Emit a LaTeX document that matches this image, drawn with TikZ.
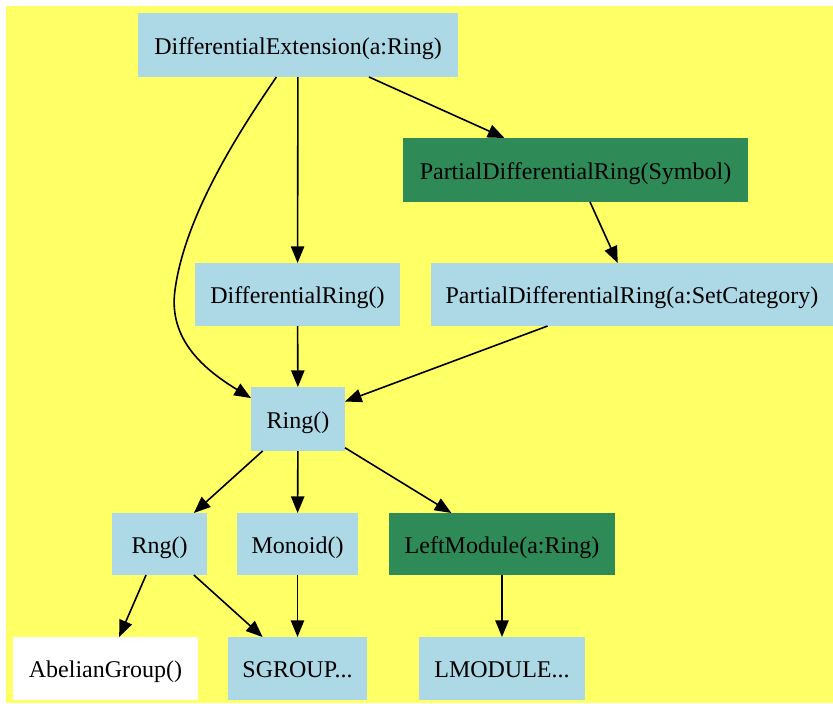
\documentclass[tikz,border=0pt]{standalone}
\usepackage{fontspec}
\setmainfont{Liberation Serif}
\usepackage{xcolor}
\definecolor{bgyellow}{RGB}{255, 255, 102}
\definecolor{catblue}{RGB}{173, 216, 230}
\definecolor{catgreen}{RGB}{46, 139, 87}
\usepackage{tikz}
\usetikzlibrary{arrows.meta}

\begin{document}
\begin{tikzpicture}[x=0.75pt, y=-0.75pt, >={Triangle[length=12.5pt, width=10pt]},
    cat/.style={fill=catblue, inner sep=0pt, outer sep=0pt, text height=14pt, text depth=0pt,
        font=\fontsize{18}{22}\selectfont},
    catdark/.style={cat, fill=catgreen},
    catplain/.style={cat, fill=white},
    dep/.style={->, line width=1.2pt}]
    \useasboundingbox (0,0) rectangle (833,704);
    \fill[bgyellow] (6,6) rectangle (833,703);
    % top rows
    \node[cat, minimum width=240pt, minimum height=48pt] (ext) at (298,45) {DifferentialExtension(a:Ring)};
    \node[catdark, minimum width=258.75pt, minimum height=48pt] (pdrsym) at (575.5,170) {PartialDifferentialRing(Symbol)};
    \node[cat, minimum width=153.75pt, minimum height=47.25pt] (dring) at (297.5,294.5) {DifferentialRing()};
    \node[cat, minimum width=301.5pt, minimum height=47.25pt] (pdrset) at (632,294.5) {PartialDifferentialRing(a:SetCategory)};
    \node[cat, minimum width=70.5pt, minimum height=48pt] (ring) at (298,419) {Ring()};
    % lower rows
    \node[cat, minimum width=71.25pt, minimum height=46.5pt] (rng) at (159.5,544) {Rng()};
    \node[cat, minimum width=90.75pt, minimum height=46.5pt] (monoid) at (297.5,544) {Monoid()};
    \node[catdark, minimum width=169.5pt, minimum height=46.5pt] (lmod) at (502,544) {LeftModule(a:Ring)};
    \node[catplain, minimum width=138.75pt, minimum height=47.25pt] (abel) at (105.5,668.5) {AbelianGroup()};
    \node[cat, minimum width=104.25pt, minimum height=47.25pt] (sgroup) at (297.5,668.5) {SGROUP...};
    \node[cat, minimum width=124.5pt, minimum height=47.25pt] (lmodule) at (502,668.5) {LMODULE...};
    % edges
    \draw[dep] (ext) -- (pdrsym);
    \draw[dep] (ext) -- (dring);
    \draw[dep] (ext.-124) .. controls (240,130) and (185,215) .. (175,290)
        .. controls (168,340) and (205,370) .. (ring.156);
    \draw[dep] (pdrsym) -- (pdrset);
    \draw[dep] (dring) -- (ring);
    \draw[dep] (pdrset) -- (ring);
    \draw[dep] (ring) -- (rng);
    \draw[dep] (ring) -- (monoid);
    \draw[dep] (ring) -- (lmod);
    \draw[dep] (rng) -- (abel);
    \draw[dep] (rng) -- (sgroup);
    \draw[dep] (monoid) -- (sgroup);
    \draw[dep] (lmod) -- (lmodule);
\end{tikzpicture}
\end{document}
